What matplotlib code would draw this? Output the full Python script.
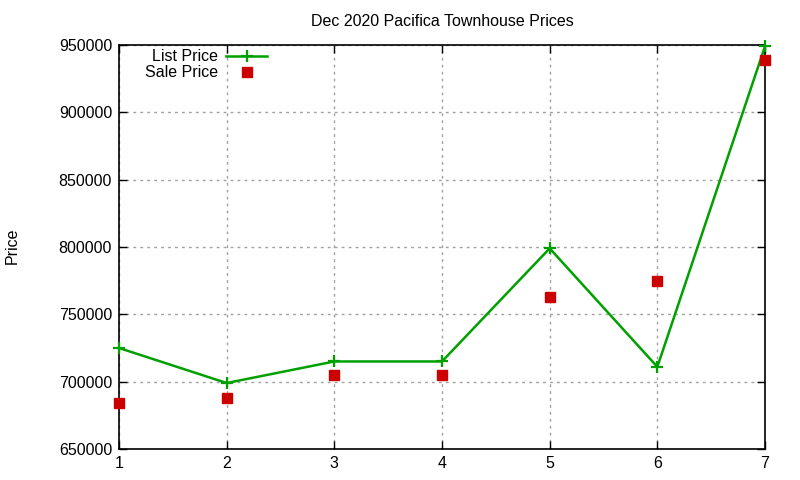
import matplotlib
matplotlib.use("Agg")
import matplotlib.pyplot as plt

plt.rcParams['font.family'] = ['Liberation Sans', 'DejaVu Sans']

x_vals = [1, 2, 3, 4, 5, 6, 7]
list_price = [725000, 699000, 715000, 715000, 799000, 711000, 949000]
sale_price = [684000, 688000, 705000, 705000, 763000, 775000, 939000]
y_ticks = [650000, 700000, 750000, 800000, 850000, 900000, 950000]

green = '#00a000'
red = '#cc0000'

fig = plt.figure(figsize=(8, 4.8), dpi=100)
ax = fig.add_axes([119/800, 1-449/480, (765-119)/800, (449-45)/480])

ax.plot(x_vals, list_price, color=green, lw=1.8, marker='+', ms=9, mew=1.6,
        label='List Price', zorder=3, clip_on=False)
ax.plot(x_vals, sale_price, ls='none', marker='s', ms=6.5, color=red,
        mec=red, label='Sale Price', zorder=3, clip_on=False)

ax.set_xlim(1, 7)
ax.set_ylim(650000, 950000)
ax.set_xticks(x_vals)
ax.set_yticks(y_ticks)
ax.set_yticklabels([str(v) for v in y_ticks])
ax.tick_params(direction='in', length=6, width=1, top=True, right=True,
               labelsize=11.5, pad=5, colors='black')
ax.grid(True, color='#a0a0a0', ls=(0, (2, 3)), lw=1)
for s in ax.spines.values():
    s.set_linewidth(1.2)

ax.set_title('Dec 2020 Pacifica Townhouse Prices', fontsize=11.5, pad=14)
fig.text(12/800, 1-246/480, 'Price', rotation=90, ha='center', va='center', fontsize=11.5)

leg = ax.legend(loc='upper left', bbox_to_anchor=(0.03, 1.005), frameon=False,
                markerfirst=False, fontsize=11.5, handlelength=2.6,
                labelspacing=0.05, handletextpad=0.5, borderaxespad=0)
for t in leg.get_texts():
    t.set_ha('right')

fig.savefig('out.png', dpi=100)
